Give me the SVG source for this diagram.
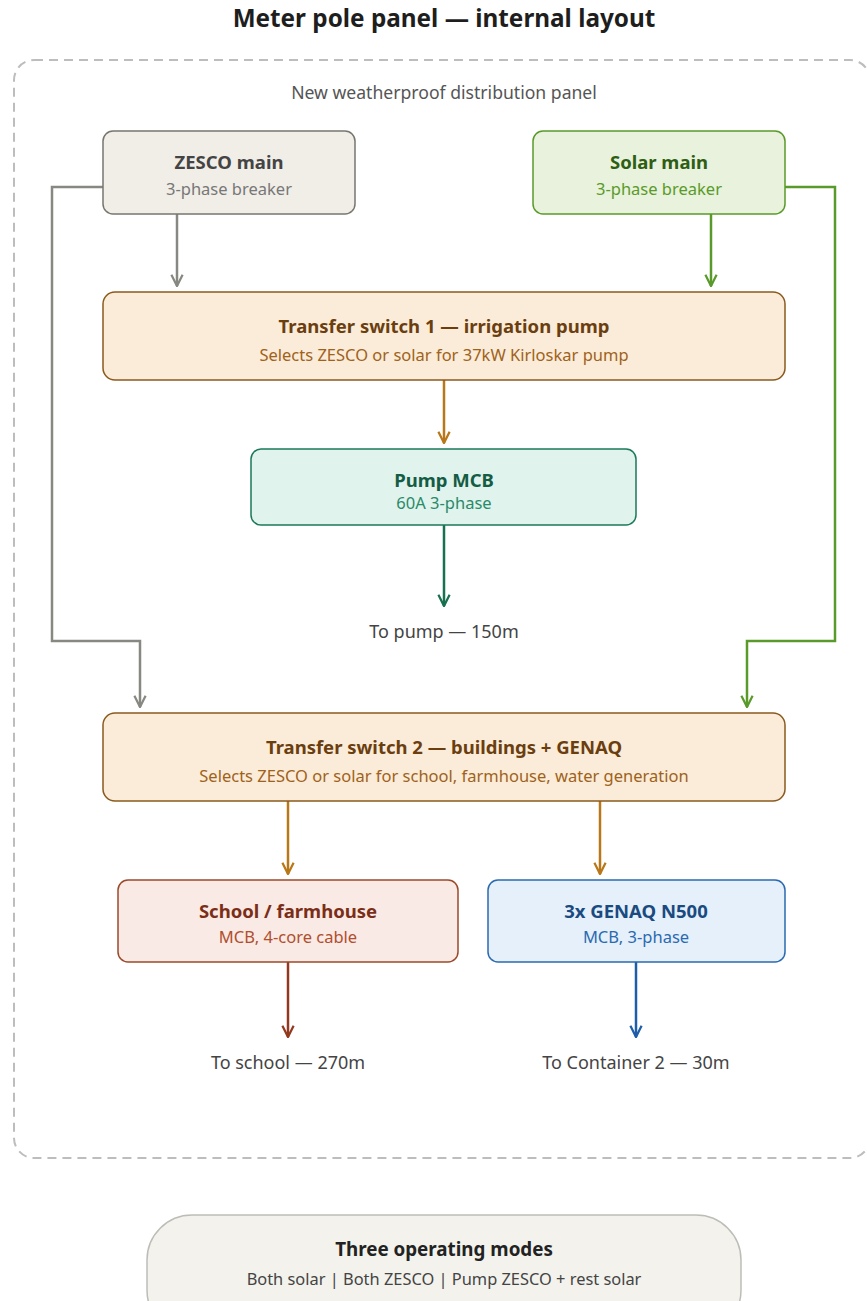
<svg xmlns="http://www.w3.org/2000/svg" width="867" height="1301" viewBox="0 0 867 1301">
<style>
text{font-family:"Noto Sans","Open Sans","Liberation Sans",sans-serif;text-anchor:middle}
.t{font-weight:700;font-size:18.5px}
.s{font-size:16.5px}
.lbl{font-size:18px;fill:#444}
.c{fill:none;stroke-width:2.5;stroke-linejoin:miter}
</style>
<defs>
<marker id="mg" viewBox="0 0 10 10" refX="9" refY="5" markerWidth="14" markerHeight="14" markerUnits="userSpaceOnUse" orient="auto"><path d="M1,1 L9,5 L1,9" fill="none" stroke="#888882" stroke-width="1.6"/></marker>
<marker id="mgr" viewBox="0 0 10 10" refX="9" refY="5" markerWidth="14" markerHeight="14" markerUnits="userSpaceOnUse" orient="auto"><path d="M1,1 L9,5 L1,9" fill="none" stroke="#5a9a2a" stroke-width="1.6"/></marker>
<marker id="mo" viewBox="0 0 10 10" refX="9" refY="5" markerWidth="14" markerHeight="14" markerUnits="userSpaceOnUse" orient="auto"><path d="M1,1 L9,5 L1,9" fill="none" stroke="#b87718" stroke-width="1.6"/></marker>
<marker id="mt" viewBox="0 0 10 10" refX="9" refY="5" markerWidth="14" markerHeight="14" markerUnits="userSpaceOnUse" orient="auto"><path d="M1,1 L9,5 L1,9" fill="none" stroke="#17704f" stroke-width="1.6"/></marker>
<marker id="mb" viewBox="0 0 10 10" refX="9" refY="5" markerWidth="14" markerHeight="14" markerUnits="userSpaceOnUse" orient="auto"><path d="M1,1 L9,5 L1,9" fill="none" stroke="#93391f" stroke-width="1.6"/></marker>
<marker id="mbl" viewBox="0 0 10 10" refX="9" refY="5" markerWidth="14" markerHeight="14" markerUnits="userSpaceOnUse" orient="auto"><path d="M1,1 L9,5 L1,9" fill="none" stroke="#1e5ea8" stroke-width="1.6"/></marker>
</defs>
<rect width="867" height="1301" fill="#ffffff"/>
<text x="444" y="27" style="font-size:24.3px;font-weight:700;fill:#1e1e1e">Meter pole panel — internal layout</text>
<g id="panel">
<rect x="14" y="60" width="856" height="1098" rx="20" fill="none" stroke="#bdbdbd" stroke-width="2" stroke-dasharray="9 6"/>
<text x="444" y="99" style="font-size:17.6px;fill:#555">New weatherproof distribution panel</text>
</g>
<g id="connectors">
<path class="c" d="M177,214 V286" stroke="#888882" marker-end="url(#mg)"/>
<path class="c" d="M711,214 V286" stroke="#5a9a2a" marker-end="url(#mgr)"/>
<path class="c" d="M103,187 H52 V641 H140 V707" stroke="#888882" marker-end="url(#mg)"/>
<path class="c" d="M785,187 H835 V641 H747 V707" stroke="#5a9a2a" marker-end="url(#mgr)"/>
<path class="c" d="M444,380 V443" stroke="#b87718" marker-end="url(#mo)"/>
<path class="c" d="M444,525 V606" stroke="#17704f" marker-end="url(#mt)"/>
<path class="c" d="M288,801 V874" stroke="#b87718" marker-end="url(#mo)"/>
<path class="c" d="M600,801 V874" stroke="#b87718" marker-end="url(#mo)"/>
<path class="c" d="M288,962 V1037" stroke="#93391f" marker-end="url(#mb)"/>
<path class="c" d="M636,962 V1037" stroke="#1e5ea8" marker-end="url(#mbl)"/>
</g>
<g id="zesco-main">
<rect x="103" y="131" width="252" height="83" rx="10" fill="#f1eee8" stroke="#77776f" stroke-width="1.5"/>
<text class="t" x="229" y="169" fill="#444">ZESCO main</text>
<text class="s" x="229" y="195" fill="#777">3-phase breaker</text>
</g>
<g id="solar-main">
<rect x="533" y="131" width="252" height="83" rx="10" fill="#e8f2dc" stroke="#5a9a2a" stroke-width="1.5"/>
<text class="t" x="659" y="169" fill="#2e5e14">Solar main</text>
<text class="s" x="659" y="195" fill="#5a9a2a">3-phase breaker</text>
</g>
<g id="transfer-switch-1">
<rect x="103" y="292" width="682" height="88" rx="12" fill="#faecd9" stroke="#8a5a1e" stroke-width="1.5"/>
<text class="t" x="444" y="333" fill="#6b3e10">Transfer switch 1 — irrigation pump</text>
<text class="s" x="444" y="361" fill="#a0621a">Selects ZESCO or solar for 37kW Kirloskar pump</text>
</g>
<g id="pump-mcb">
<rect x="251" y="449" width="385" height="76" rx="10" fill="#e0f3ec" stroke="#1a7a5a" stroke-width="1.5"/>
<text class="t" x="444" y="487" fill="#145c44">Pump MCB</text>
<text class="s" x="444" y="509" fill="#2a8a6a">60A 3-phase</text>
</g>
<g id="to-pump">
<text class="lbl" x="444" y="638">To pump — 150m</text>
</g>
<g id="transfer-switch-2">
<rect x="103" y="713" width="682" height="88" rx="12" fill="#faecd9" stroke="#8a5a1e" stroke-width="1.5"/>
<text class="t" x="444" y="754" fill="#6b3e10">Transfer switch 2 — buildings + GENAQ</text>
<text class="s" x="444" y="782" fill="#a0621a">Selects ZESCO or solar for school, farmhouse, water generation</text>
</g>
<g id="school-farmhouse">
<rect x="118" y="880" width="340" height="82" rx="10" fill="#faeae5" stroke="#9a4a2a" stroke-width="1.5"/>
<text class="t" x="288" y="918" fill="#7a2e18">School / farmhouse</text>
<text class="s" x="288" y="943" fill="#b04e2e">MCB, 4-core cable</text>
</g>
<g id="genaq">
<rect x="488" y="880" width="297" height="82" rx="10" fill="#e5f0fa" stroke="#2a6ab0" stroke-width="1.5"/>
<text class="t" x="636" y="918" fill="#1a4a80">3x GENAQ N500</text>
<text class="s" x="636" y="943" fill="#2a6ab0">MCB, 3-phase</text>
</g>
<g id="to-school">
<text class="lbl" x="288" y="1069">To school — 270m</text>
</g>
<g id="to-container">
<text class="lbl" x="636" y="1069">To Container 2 — 30m</text>
</g>
<g id="modes">
<rect x="147" y="1215" width="594" height="120" rx="45" fill="#f3f2ec" stroke="#bdbdb8" stroke-width="1.5"/>
<text x="444" y="1256" style="font-size:18.8px;font-weight:700;fill:#222">Three operating modes</text>
<text x="444" y="1285" style="font-size:16.4px;fill:#444">Both solar | Both ZESCO | Pump ZESCO + rest solar</text>
</g>
</svg>
